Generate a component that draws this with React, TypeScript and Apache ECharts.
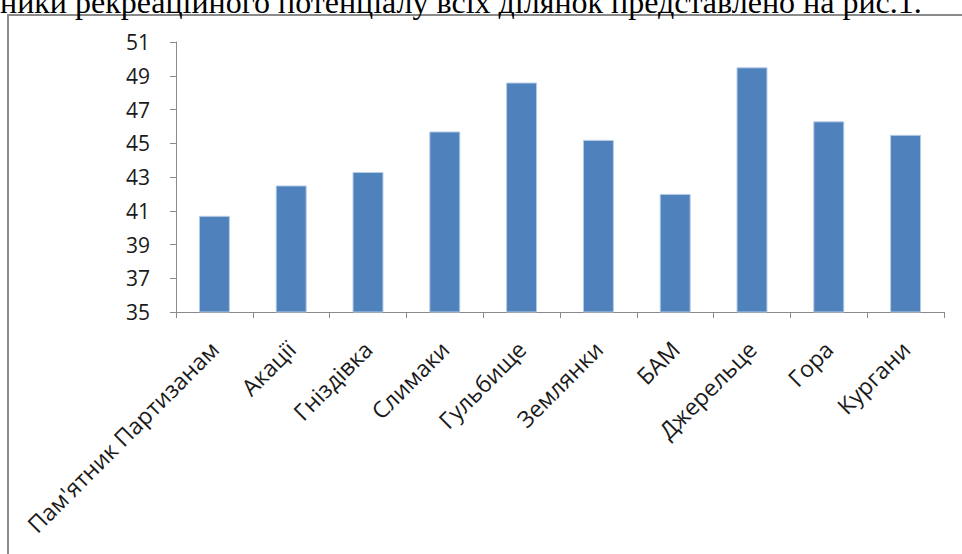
import React, { useEffect, useRef } from "react";
import * as echarts from "echarts";

const categories = [
  "Пам'ятник Партизанам",
  "Акації",
  "Гніздівка",
  "Слимаки",
  "Гульбище",
  "Землянки",
  "БАМ",
  "Джерельце",
  "Гора",
  "Кургани",
];
const values = [40.7, 42.5, 43.3, 45.7, 48.6, 45.2, 42.0, 49.5, 46.3, 45.5];
const yMin = 35;
const yMax = 51;
const yInterval = 2;
const captionText = "ники рекреаційного потенціалу всіх ділянок представлено на рис.1.";

export default function App() {
  const ref = useRef<HTMLDivElement>(null);
  useEffect(() => {
    if (!ref.current) return;
    const chart = echarts.init(ref.current, null, { renderer: "svg" });
    chart.setOption({
      animation: false,
      backgroundColor: "#ffffff",
      graphic: [
        {
          type: "rect",
          shape: { x: 8, y: 15, width: 1000, height: 600 },
          style: { fill: "none", stroke: "#8a8a8a", lineWidth: 2 },
          z: 0,
        },
        {
          type: "text",
          x: 0,
          y: -14,
          style: {
            text: captionText,
            font: '32px "Liberation Serif", serif',
            fill: "#000",
            verticalAlign: "top",
          },
          z: 10,
        },
      ],
      grid: { left: 176, right: 18, top: 42, bottom: 242 },
      xAxis: {
        type: "category",
        data: categories,
        boundaryGap: true,
        axisLine: { lineStyle: { color: "#8a8a8a", width: 1 } },
        axisTick: { show: true, length: 6, lineStyle: { color: "#8a8a8a" } },
        axisLabel: {
          rotate: 45,
          interval: 0,
          margin: 33,
          fontFamily: "Open Sans",
          fontSize: 23,
          color: "#1a1a1a",
        },
        splitLine: { show: false },
      },
      yAxis: {
        type: "value",
        min: yMin,
        max: yMax,
        interval: yInterval,
        axisLine: { show: true, lineStyle: { color: "#8a8a8a", width: 1 } },
        axisTick: { show: true, length: 6, lineStyle: { color: "#8a8a8a" } },
        axisLabel: {
          margin: 26,
          fontFamily: "Open Sans",
          fontSize: 21,
          color: "#1a1a1a",
        },
        splitLine: { show: false },
      },
      series: [
        {
          type: "bar",
          data: values,
          barWidth: 31,
          itemStyle: { color: "#4f81bd", borderColor: "#b9cde5", borderWidth: 1 },
        },
      ],
    });
    return () => chart.dispose();
  }, []);
  return (
    <div
      ref={ref}
      style={{ position: "absolute", left: 0, top: 0, width: 962, height: 554 }}
    />
  );
}
